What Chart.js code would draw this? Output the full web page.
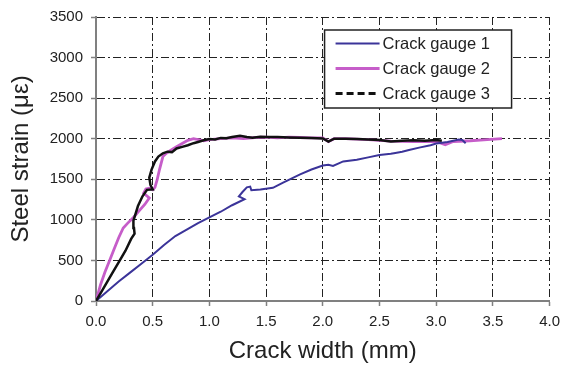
<!DOCTYPE html>
<html>
<head>
<meta charset="utf-8">
<script src="https://cdn.jsdelivr.net/npm/chart.js@4"></script>
<style>
html,body{margin:0;padding:0;background:#fff;}
#c{display:block;}
</style>
</head>
<body>
<canvas id="c" width="567" height="370"></canvas>
<script>
// ---- data ----
const seriesLabels = ['Crack gauge 1', 'Crack gauge 2', 'Crack gauge 3'];

const gauge1X = [0, 0.1, 0.2, 0.3, 0.4, 0.5, 0.6, 0.7, 0.8, 0.9, 1.0, 1.1, 1.2, 1.31, 1.26, 1.29, 1.33, 1.36, 1.37, 1.45, 1.56, 1.65, 1.8, 1.9, 2.0, 2.05, 2.09, 2.18, 2.3, 2.4, 2.5, 2.6, 2.64, 2.7, 2.76, 2.85, 2.95, 3.0, 3.1, 3.2, 3.23, 3.26];
const gauge1Y = [0, 120, 240, 350, 460, 570, 690, 800, 880, 960, 1030, 1100, 1180, 1255, 1290, 1340, 1400, 1410, 1365, 1375, 1395, 1460, 1560, 1620, 1670, 1680, 1665, 1720, 1740, 1770, 1800, 1815, 1825, 1840, 1860, 1890, 1920, 1940, 1960, 1990, 1985, 1945];

const gauge2X = [0, 0.04, 0.08, 0.12, 0.16, 0.2, 0.24, 0.28, 0.33, 0.38, 0.43, 0.47, 0.42, 0.44, 0.47, 0.5, 0.52, 0.54, 0.56, 0.59, 0.62, 0.66, 0.71, 0.76, 0.81, 0.86, 0.9, 0.95, 1.0, 1.1, 1.2, 1.3, 1.4, 1.5, 1.6, 1.7, 1.8, 1.9, 2.0, 2.05, 2.1, 2.2, 2.4, 2.6, 2.8, 3.0, 3.08, 3.15, 3.3, 3.45, 3.58];
const gauge2Y = [0, 200, 360, 500, 640, 780, 900, 960, 1030, 1110, 1190, 1270, 1330, 1380, 1390, 1370, 1400, 1500, 1620, 1780, 1820, 1860, 1900, 1940, 1980, 2000, 1990, 1975, 1990, 2000, 2010, 2000, 2015, 2020, 2010, 2020, 2015, 2010, 2010, 1965, 2000, 2000, 1990, 1970, 1965, 1965, 1925, 1965, 1975, 1990, 2000];

const gauge3X = [0, 0.05, 0.1, 0.15, 0.21, 0.26, 0.31, 0.34, 0.335, 0.33, 0.35, 0.37, 0.41, 0.45, 0.5, 0.48, 0.47, 0.49, 0.52, 0.55, 0.59, 0.63, 0.67, 0.71, 0.76, 0.81, 0.86, 0.9, 0.95, 1.0, 1.05, 1.1, 1.15, 1.2, 1.27, 1.33, 1.38, 1.45, 1.5, 1.6, 1.7, 1.8, 1.9, 2.0, 2.05, 2.1, 2.2, 2.3, 2.4, 2.5, 2.6, 2.7, 2.8, 2.9, 3.0, 3.05];
const gauge3Y = [0, 120, 240, 360, 500, 620, 765, 830, 900, 990, 1080, 1170, 1290, 1370, 1375, 1430, 1520, 1620, 1720, 1780, 1820, 1840, 1835, 1880, 1900, 1920, 1945, 1960, 1980, 1995, 1990, 2010, 2005, 2020, 2037, 2020, 2012, 2025, 2020, 2020, 2015, 2012, 2010, 2004, 1965, 2000, 2000, 1995, 1990, 1984, 1965, 1975, 1980, 1975, 1984, 1975];

const xTickLabels = ['0.0', '0.5', '1.0', '1.5', '2.0', '2.5', '3.0', '3.5', '4.0'];
const yTickLabels = ['0', '500', '1000', '1500', '2000', '2500', '3000', '3500'];

const xTitle = 'Crack width (mm)';
const yTitle = 'Steel strain (\u03bc\u03b5)';

// ---- build ----
function pts(xs, ys) { return xs.map((x, i) => ({x: x, y: ys[i]})); }

const colors = ['#3B3499', '#C65DC9', '#111111'];
const legendDash = [[], [], [7, 4]];
const legendWidth = [2.2, 3, 3.2];

const insideLegend = {
  id: 'insideLegend',
  afterDatasetsDraw(chart) {
    const ctx = chart.ctx;
    const ca = chart.chartArea;
    const bx = ca.right - 225, by = ca.top + 13, bw = 187, bh = 78;
    ctx.save();
    ctx.fillStyle = '#ffffff';
    ctx.fillRect(bx, by, bw, bh);
    ctx.strokeStyle = '#222';
    ctx.lineWidth = 1.5;
    ctx.setLineDash([]);
    ctx.strokeRect(bx, by, bw, bh);
    ctx.font = '16.5px "Liberation Sans", Arial, sans-serif';
    ctx.textBaseline = 'middle';
    ctx.textAlign = 'left';
    chart.data.datasets.forEach((ds, i) => {
      const y = by + 13.5 + i * 25;
      ctx.beginPath();
      ctx.strokeStyle = colors[i];
      ctx.lineWidth = legendWidth[i];
      ctx.setLineDash(legendDash[i]);
      ctx.moveTo(bx + 11, y);
      ctx.lineTo(bx + 55, y);
      ctx.stroke();
      ctx.setLineDash([]);
      ctx.fillStyle = '#222';
      ctx.fillText(ds.label, bx + 58, y + 1);
    });
    ctx.restore();
  }
};

new Chart(document.getElementById('c'), {
  type: 'scatter',
  data: {
    datasets: [
      {label: seriesLabels[0], data: pts(gauge1X, gauge1Y), borderColor: colors[0], borderWidth: 2, order: 1},
      {label: seriesLabels[1], data: pts(gauge2X, gauge2Y), borderColor: colors[1], borderWidth: 2.8, order: 2},
      {label: seriesLabels[2], data: pts(gauge3X, gauge3Y), borderColor: colors[2], borderWidth: 2.5, order: 0}
    ].map(d => Object.assign(d, {showLine: true, pointRadius: 0, pointHoverRadius: 0, tension: 0, fill: false, backgroundColor: d.borderColor}))
  },
  options: {
    responsive: false,
    animation: false,
    devicePixelRatio: 1,
    layout: {padding: {top: 13, right: 16, left: 0, bottom: 0}},
    plugins: {legend: {display: false}, tooltip: {enabled: false}},
    scales: {
      x: {
        type: 'linear', min: 0, max: 4,
        afterFit(s) { s.height = 69; },
        ticks: {stepSize: 0.5, padding: 7, color: '#222', font: {size: 15, family: '"Liberation Sans", Arial, sans-serif'},
          callback: (v) => xTickLabels[Math.round(v / 0.5)]},
        grid: {color: '#222', lineWidth: 1, tickLength: 5, tickColor: '#808080', tickWidth: 1.5},
        border: {display: true, color: '#808080', width: 2, dash: [8, 3, 2, 3]},
        title: {display: true, text: xTitle, color: '#222', padding: {top: 0, bottom: 4}, font: {size: 24, family: '"Liberation Sans", Arial, sans-serif'}}
      },
      y: {
        type: 'linear', min: 0, max: 3500,
        afterFit(s) { s.width = 96; },
        ticks: {stepSize: 500, padding: 8, color: '#222', font: {size: 15, family: '"Liberation Sans", Arial, sans-serif'},
          callback: (v) => yTickLabels[Math.round(v / 500)]},
        grid: {color: '#222', lineWidth: 1, tickLength: 5, tickColor: '#808080', tickWidth: 1.5},
        border: {display: true, color: '#808080', width: 2, dash: [8, 3, 2, 3]},
        title: {display: true, text: yTitle, color: '#222', padding: {top: 7, bottom: 0}, font: {size: 24, family: '"Liberation Sans", Arial, sans-serif'}}
      }
    }
  },
  plugins: [insideLegend]
});
</script>
</body>
</html>
